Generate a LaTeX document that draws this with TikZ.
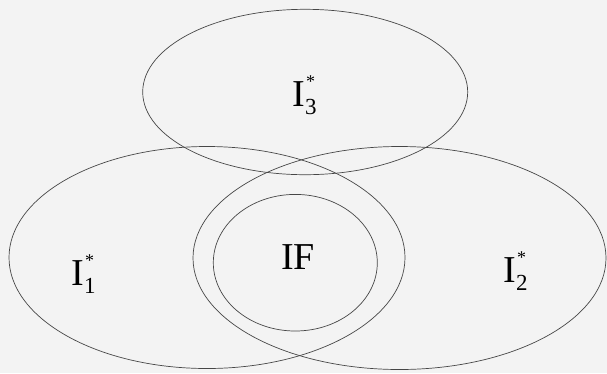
\documentclass[tikz,border=0pt]{standalone}
\usepackage{fontspec}
\setmainfont{Liberation Serif}
\definecolor{nen}{RGB}{243,243,243}
\definecolor{vien}{RGB}{70,70,70}
\newcommand{\Isao}[1]{I\rlap{\hspace{1pt}\raisebox{19pt}{\fontsize{18}{18}\selectfont *}}\raisebox{-8pt}{\fontsize{23}{23}\selectfont #1}}
\begin{document}
\begin{tikzpicture}[x=1pt, y=-1pt, font=\fontsize{38}{40}\selectfont]
			% Khung nền
			\fill[nen] (0,0) rectangle (607,373);
			\useasboundingbox (0,0) rectangle (607,373);
			
			% Tâm các elip
			\coordinate (T) at (305.2, 92);
			\coordinate (L) at (207, 257.5);
			\coordinate (R) at (399.5, 258);
			\coordinate (O) at (295.3, 262.7);
			
			% Vẽ các elip
			\draw[vien, line width=0.7pt] (T) ellipse [x radius=162.5, y radius=82.7];
			\draw[vien, line width=0.7pt] (L) ellipse [x radius=198, y radius=111];
			\draw[vien, line width=0.7pt] (R) ellipse [x radius=206.5, y radius=111.5];
			\draw[vien, line width=0.7pt] (O) ellipse [x radius=82, y radius=68.3];
			
			% Nhãn
			\node[anchor=base west, inner sep=0pt] (i3) at (292.3, 106) {\Isao{3}};
			\node[anchor=base west, inner sep=0pt] (i1) at (71.3, 285) {\Isao{1}};
			\node[anchor=base west, inner sep=0pt] (i2) at (503.3, 282) {\Isao{2}};
			\node[anchor=base west, inner sep=0pt] (if) at (281, 269) {IF};
	\end{tikzpicture}
\end{document}
